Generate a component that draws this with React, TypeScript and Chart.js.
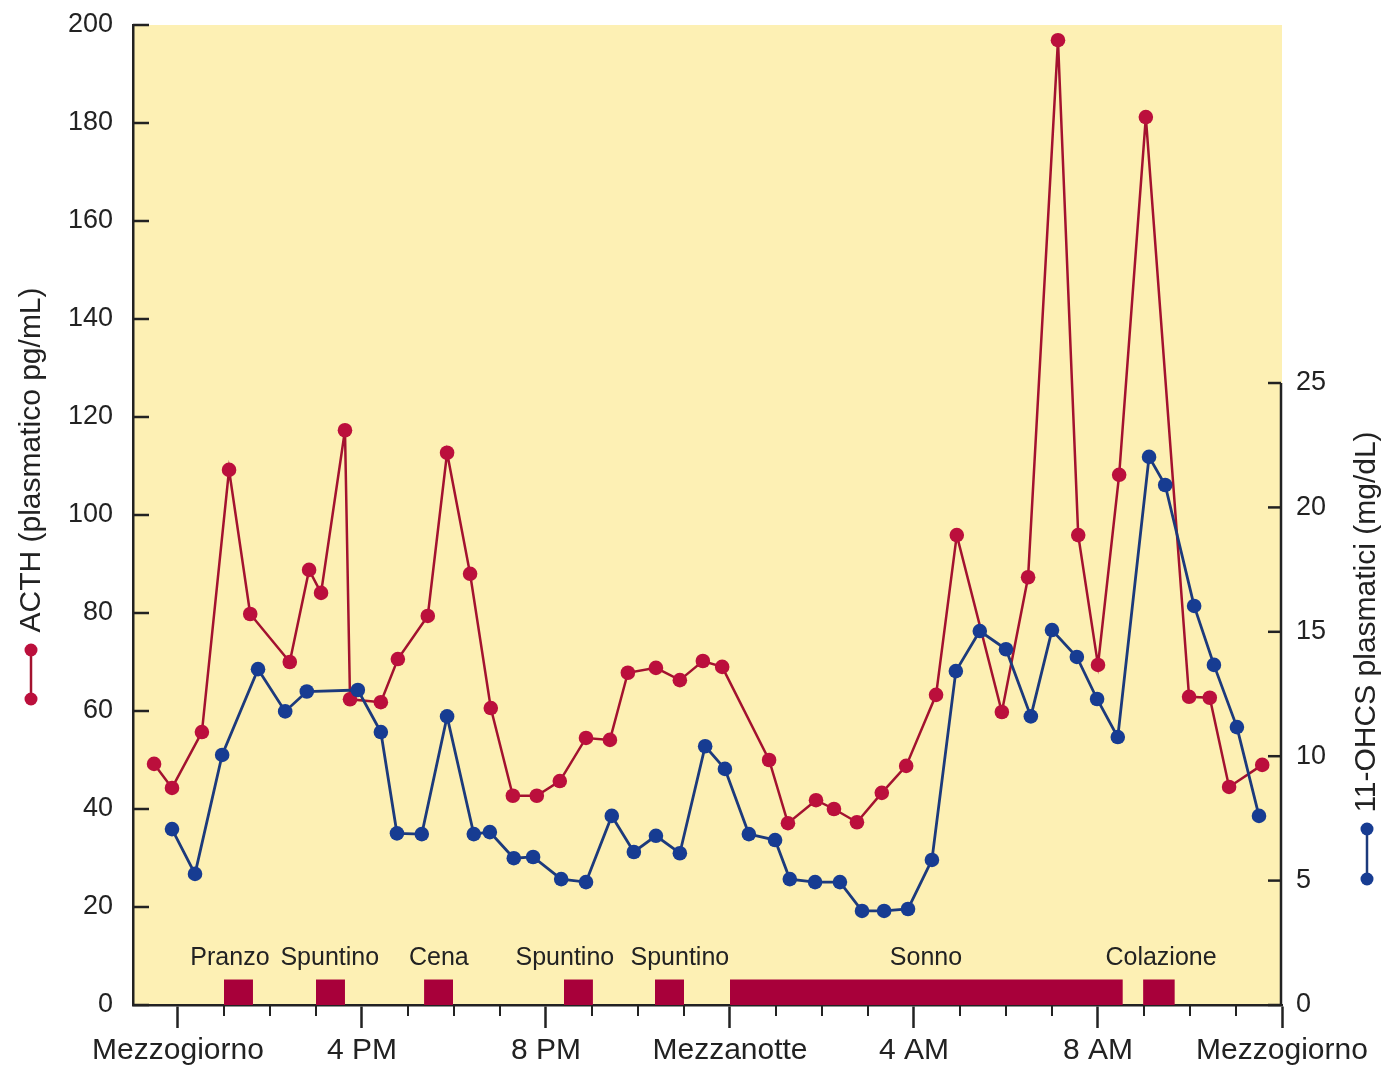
import React, { useEffect, useRef } from "react";
import { Chart, registerables } from "chart.js";

Chart.register(...registerables);

// ACTH (left axis, pg/mL) — x in hours since midnight of day 1 (12 = noon)
const acthHours = [11.48, 11.87, 12.52, 13.11, 13.57, 14.43, 14.85, 15.11, 15.63, 15.74, 16.41, 16.78, 17.43, 17.85, 18.35, 18.8, 19.28, 19.8, 20.3, 20.87, 21.39, 21.78, 22.39, 22.91, 23.41, 23.83, 24.85, 25.26, 25.87, 26.26, 26.76, 27.3, 27.83, 28.48, 28.93, 29.91, 30.48, 31.13, 31.57, 32.0, 32.46, 33.04, 33.98, 34.43, 34.85, 35.57];
const acthValues = [49.2, 44.3, 55.7, 109.2, 79.8, 70, 88.8, 84.1, 117.3, 62.4, 61.8, 70.6, 79.4, 112.7, 88, 60.6, 42.7, 42.7, 45.7, 54.5, 54.1, 67.8, 68.8, 66.3, 70.2, 69, 50, 37.1, 41.8, 40, 37.3, 43.3, 48.8, 63.3, 95.9, 59.8, 87.3, 196.9, 95.9, 69.4, 108.2, 181.2, 62.9, 62.7, 44.5, 49];

// 11-OHCS (right axis, mg/dL)
const ohcsHours = [11.87, 12.37, 12.96, 13.74, 14.33, 14.8, 15.91, 16.41, 16.76, 17.3, 17.85, 18.43, 18.78, 19.3, 19.72, 20.33, 20.87, 21.43, 21.91, 22.39, 22.91, 23.46, 23.89, 24.41, 24.98, 25.3, 25.85, 26.39, 26.87, 27.35, 27.87, 28.39, 28.91, 29.43, 30.0, 30.54, 31.0, 31.54, 31.98, 32.43, 33.11, 33.46, 34.09, 34.52, 35.02, 35.5];
const ohcsValues = [7.07, 5.27, 10.05, 13.5, 11.8, 12.6, 12.66, 10.97, 6.9, 6.87, 11.6, 6.87, 6.95, 5.9, 5.95, 5.06, 4.94, 7.6, 6.15, 6.8, 6.1, 10.4, 9.49, 6.87, 6.63, 5.06, 4.94, 4.94, 3.78, 3.78, 3.86, 5.83, 13.42, 15.03, 14.3, 11.6, 15.07, 13.99, 12.3, 10.77, 22.03, 20.9, 16.04, 13.67, 11.17, 7.6];

// Meals / sleep periods
const mealLabels = ["Pranzo", "Spuntino", "Cena", "Spuntino", "Spuntino", "Sonno", "Colazione"];
const mealStart = [13.0, 15.0, 17.35, 20.39, 22.37, 24.0, 32.98];
const mealEnd = [13.63, 15.63, 17.98, 21.02, 23.0, 32.54, 33.67];
const mealLabelHours = [13.13, 15.3, 17.67, 20.41, 22.91, 28.26, 33.37];
const mealBarLevel = 5.2;

// Axes
const majorTickHours = [12, 16, 20, 24, 28, 32, 36];
const majorTickLabels = ["Mezzogiorno", "4 PM", "8 PM", "Mezzanotte", "4 AM", "8 AM", "Mezzogiorno"];
const minorTickHours = [13, 14, 15, 17, 18, 19, 21, 22, 23, 25, 26, 27, 29, 30, 31, 33, 34, 35];
const leftTicks = [0, 20, 40, 60, 80, 100, 120, 140, 160, 180, 200];
const rightTicks = [0, 5, 10, 15, 20, 25];

const leftTitle = "ACTH (plasmatico pg/mL)";
const rightTitle = "11-OHCS plasmatici (mg/dL)";

const RED_LINE = "#a3122f";
const RED_DOT = "#bb0f3c";
const BLUE_LINE = "#1c3a7c";
const BLUE_DOT = "#173c92";
const BAR = "#a8003a";
const AXIS = "#222222";
const TEXT = "#222222";
const BG = "#fdf0b4";
const FONT = '"Liberation Sans", Arial, sans-serif';

export default function App() {
  const canvasRef = useRef<HTMLCanvasElement | null>(null);

  useEffect(() => {
    const canvas = canvasRef.current;
    if (!canvas) return;

    const decor = {
      id: "decor",
      beforeDraw(chart: any) {
        const { ctx, chartArea } = chart;
        ctx.save();
        ctx.fillStyle = "#ffffff";
        ctx.fillRect(0, 0, chart.width, chart.height);
        ctx.fillStyle = BG;
        ctx.fillRect(chartArea.left, chartArea.top, chartArea.right - chartArea.left, chartArea.bottom - chartArea.top);
        ctx.restore();
      },
      afterDraw(chart: any) {
        const { ctx, chartArea } = chart;
        const xs = chart.scales.x;
        const yl = chart.scales.y;
        const yr = chart.scales.y2;
        ctx.save();
        ctx.strokeStyle = AXIS;
        ctx.lineCap = "butt";
        // left inward ticks
        ctx.lineWidth = 2.5;
        leftTicks.forEach((v) => {
          const y = yl.getPixelForValue(v);
          ctx.beginPath();
          ctx.moveTo(chartArea.left, y);
          ctx.lineTo(chartArea.left + 16, y);
          ctx.stroke();
        });
        // right axis line (0..25) and inward ticks
        const rx = chartArea.right - 1;
        ctx.beginPath();
        ctx.moveTo(rx, yr.getPixelForValue(0));
        ctx.lineTo(rx, yr.getPixelForValue(rightTicks[rightTicks.length - 1]));
        ctx.stroke();
        rightTicks.forEach((v) => {
          const y = yr.getPixelForValue(v);
          ctx.beginPath();
          ctx.moveTo(rx - 13, y);
          ctx.lineTo(rx, y);
          ctx.stroke();
        });
        // minor x ticks
        ctx.lineWidth = 2;
        minorTickHours.forEach((h) => {
          const x = xs.getPixelForValue(h);
          ctx.beginPath();
          ctx.moveTo(x, chartArea.bottom);
          ctx.lineTo(x, chartArea.bottom + 11);
          ctx.stroke();
        });
        // meal labels
        ctx.fillStyle = TEXT;
        ctx.font = `25px ${FONT}`;
        ctx.textAlign = "center";
        ctx.textBaseline = "middle";
        mealLabels.forEach((t, i) => {
          ctx.fillText(t, xs.getPixelForValue(mealLabelHours[i]), 958);
        });
        // axis titles
        ctx.font = `30px ${FONT}`;
        ctx.save();
        ctx.translate(32, 460);
        ctx.rotate(-Math.PI / 2);
        ctx.fillText(leftTitle, 0, 0);
        ctx.restore();
        ctx.save();
        ctx.translate(1367, 622);
        ctx.rotate(-Math.PI / 2);
        ctx.fillText(rightTitle, 0, 0);
        ctx.restore();
        // legend markers
        const marker = (x: number, y1: number, y2: number, line: string, dot: string) => {
          ctx.strokeStyle = line;
          ctx.fillStyle = dot;
          ctx.lineWidth = 2.5;
          ctx.beginPath();
          ctx.moveTo(x, y1);
          ctx.lineTo(x, y2);
          ctx.stroke();
          [y1, y2].forEach((y) => {
            ctx.beginPath();
            ctx.arc(x, y, 6.5, 0, Math.PI * 2);
            ctx.fill();
          });
        };
        marker(31, 650, 699, RED_LINE, RED_DOT);
        marker(1367, 829, 879, BLUE_LINE, BLUE_DOT);
        ctx.restore();
      },
    };

    const mealDatasets = mealLabels.map((lab, i) => ({
      type: "line" as const,
      label: lab,
      data: [
        { x: mealStart[i], y: mealBarLevel },
        { x: mealEnd[i], y: mealBarLevel },
      ],
      yAxisID: "y",
      borderWidth: 0,
      borderColor: BAR,
      backgroundColor: BAR,
      pointRadius: 0,
      fill: "origin",
      order: 3,
    }));

    const chart = new Chart(canvas, {
      type: "line",
      data: {
        datasets: [
          {
            label: "11-OHCS",
            data: ohcsHours.map((h, i) => ({ x: h, y: ohcsValues[i] })),
            yAxisID: "y2",
            borderColor: BLUE_LINE,
            backgroundColor: BLUE_DOT,
            borderWidth: 2.8,
            pointRadius: 7.3,
            pointBorderWidth: 0,
            pointBackgroundColor: BLUE_DOT,
            tension: 0,
            fill: false,
            order: 0,
          },
          {
            label: "ACTH",
            data: acthHours.map((h, i) => ({ x: h, y: acthValues[i] })),
            yAxisID: "y",
            borderColor: RED_LINE,
            backgroundColor: RED_DOT,
            borderWidth: 2.5,
            pointRadius: 7.3,
            pointBorderWidth: 0,
            pointBackgroundColor: RED_DOT,
            tension: 0,
            fill: false,
            order: 1,
          },
          ...mealDatasets,
        ] as any,
      },
      options: {
        animation: false,
        responsive: false,
        devicePixelRatio: 1,
        layout: { padding: { top: 25, left: 0, right: 0, bottom: 0 } },
        plugins: {
          legend: { display: false },
          tooltip: { enabled: false },
          title: { display: false },
        },
        scales: {
          x: {
            type: "linear",
            min: 11.022,
            max: 36,
            afterBuildTicks: (scale: any) => {
              scale.ticks = majorTickHours.map((v) => ({ value: v }));
            },
            afterFit: (scale: any) => {
              scale.height = 60;
              scale.paddingLeft = 0;
              scale.paddingRight = 0;
            },
            grid: {
              display: true,
              drawOnChartArea: false,
              drawTicks: true,
              tickLength: 23,
              tickWidth: 2.5,
              tickColor: AXIS,
            },
            border: { display: true, color: AXIS, width: 2.5 },
            ticks: {
              autoSkip: false,
              maxRotation: 0,
              padding: 5,
              color: TEXT,
              font: { family: FONT, size: 30 },
              callback: (value: any) => {
                const i = majorTickHours.indexOf(Number(value));
                return i >= 0 ? majorTickLabels[i] : "";
              },
            },
          },
          y: {
            type: "linear",
            position: "left",
            min: 0,
            max: 200,
            afterBuildTicks: (scale: any) => {
              scale.ticks = leftTicks.map((v) => ({ value: v }));
            },
            afterFit: (scale: any) => {
              scale.width = 133;
              scale.paddingTop = 0;
              scale.paddingBottom = 0;
            },
            grid: { display: false },
            border: { display: true, color: AXIS, width: 2.5 },
            ticks: {
              padding: 12,
              color: TEXT,
              font: { family: FONT, size: 27 },
            },
          },
          y2: {
            type: "linear",
            position: "right",
            min: 0,
            max: 39.39,
            afterBuildTicks: (scale: any) => {
              scale.ticks = rightTicks.map((v) => ({ value: v }));
            },
            afterFit: (scale: any) => {
              scale.width = 102;
              scale.paddingTop = 0;
              scale.paddingBottom = 0;
            },
            grid: { display: false },
            border: { display: false },
            ticks: {
              padding: 6,
              color: TEXT,
              font: { family: FONT, size: 27 },
            },
          },
        },
      } as any,
      plugins: [decor],
    });

    return () => {
      chart.destroy();
    };
  }, []);

  return (
    <div style={{ position: "absolute", left: 0, top: 0, width: 1384, height: 1065, background: "#fff" }}>
      <canvas ref={canvasRef} width={1384} height={1065} style={{ display: "block" }} />
    </div>
  );
}
